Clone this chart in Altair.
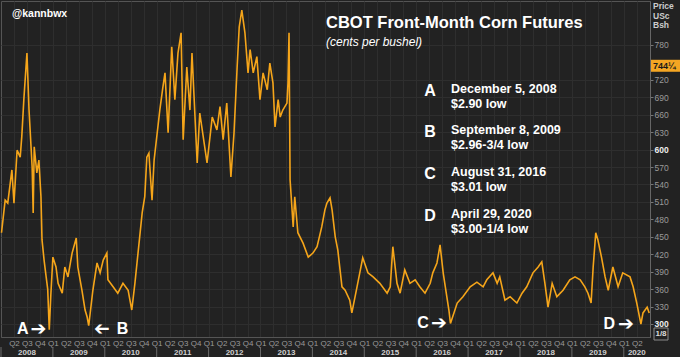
import altair as alt
import pandas as pd

# ---------------- data ----------------
# time as decimal years, price in cents per bushel
t_vals = [
    2008.01, 2008.08, 2008.13, 2008.21, 2008.25, 2008.31, 2008.37, 2008.40, 2008.44, 2008.50,
    2008.54, 2008.60, 2008.62, 2008.64, 2008.69, 2008.73, 2008.77, 2008.79, 2008.83, 2008.87,
    2008.90, 2008.93, 2008.96, 2009.00, 2009.06, 2009.10, 2009.18, 2009.23, 2009.29, 2009.37,
    2009.45, 2009.48, 2009.56, 2009.62, 2009.66, 2009.69, 2009.77, 2009.85, 2009.91, 2009.97,
    2010.04, 2010.06, 2010.16, 2010.25, 2010.35, 2010.45, 2010.52, 2010.58, 2010.64, 2010.72,
    2010.77, 2010.81, 2010.85, 2010.91, 2010.95, 2011.01, 2011.06, 2011.12, 2011.16, 2011.22,
    2011.29, 2011.35, 2011.41, 2011.47, 2011.51, 2011.58, 2011.64, 2011.68, 2011.78, 2011.83,
    2011.97, 2012.07, 2012.16, 2012.22, 2012.28, 2012.35, 2012.43, 2012.49, 2012.55, 2012.59,
    2012.64, 2012.70, 2012.76, 2012.80, 2012.86, 2012.93, 2012.99, 2013.05, 2013.13, 2013.18,
    2013.24, 2013.28, 2013.34, 2013.38, 2013.43, 2013.51, 2013.53, 2013.55, 2013.57, 2013.63,
    2013.66, 2013.72, 2013.82, 2013.92, 2014.01, 2014.09, 2014.18, 2014.24, 2014.28, 2014.34,
    2014.38, 2014.44, 2014.49, 2014.57, 2014.63, 2014.72, 2014.76, 2014.86, 2014.97, 2015.07,
    2015.17, 2015.30, 2015.44, 2015.50, 2015.55, 2015.63, 2015.69, 2015.78, 2015.88, 2015.98,
    2016.07, 2016.17, 2016.27, 2016.32, 2016.40, 2016.46, 2016.52, 2016.59, 2016.63, 2016.66,
    2016.79, 2016.90, 2017.04, 2017.17, 2017.29, 2017.36, 2017.48, 2017.56, 2017.61, 2017.71,
    2017.81, 2017.94, 2018.04, 2018.13, 2018.25, 2018.35, 2018.42, 2018.48, 2018.54, 2018.62,
    2018.71, 2018.83, 2018.96, 2019.06, 2019.16, 2019.25, 2019.31, 2019.37, 2019.41, 2019.46,
    2019.50, 2019.57, 2019.64, 2019.70, 2019.79, 2019.89, 2019.98, 2020.12, 2020.18, 2020.25,
    2020.33, 2020.37, 2020.45, 2020.49,
]
price_vals = [
    457, 513, 508, 565, 508, 599, 587, 622, 686, 766,
    668, 570, 491, 605, 560, 582, 519, 445, 410, 381,
    360, 290, 350, 415, 398, 370, 353, 398, 381, 422,
    448, 398, 358, 324, 312, 297, 358, 405, 388, 410,
    422, 376, 364, 353, 370, 358, 324, 370, 422, 491,
    519, 587, 594, 513, 582, 629, 668, 708, 732, 629,
    777, 686, 766, 801, 617, 742, 668, 766, 577, 663,
    577, 656, 634, 674, 617, 680, 553, 629, 742, 811,
    840, 801, 732, 772, 732, 760, 686, 732, 703, 749,
    715, 639, 686, 656, 668, 680, 715, 801, 548, 467,
    519, 457, 439, 415, 422, 433, 467, 496, 508, 517,
    496, 450, 427, 364, 358, 341, 319, 364, 414, 388,
    381, 370, 353, 364, 433, 370, 353, 393, 370, 376,
    364, 353, 370, 388, 405, 436, 388, 347, 324, 301,
    336, 347, 364, 372, 364, 376, 388, 370, 381, 341,
    347, 336, 353, 364, 388, 398, 407, 370, 329, 370,
    347, 358, 376, 381, 376, 364, 353, 336, 398, 457,
    445, 415, 381, 358, 398, 364, 388, 381, 364, 336,
    300, 319, 329, 319,
]

year_labels = [str(y) for y in range(2008, 2021)]
year_starts = [float(y) for y in range(2008, 2021)]
year_mids = [y + 0.5 for y in range(2008, 2020)] + [2020.25]

legend_letters = ["A", "B", "C", "D"]
legend_dates = ["December 5, 2008", "September 8, 2009", "August 31, 2016", "April 29, 2020"]
legend_lows = ["$2.90 low", "$2.96-3/4 low", "$3.01 low", "$3.00-1/4 low"]

# bottom markers: letter / arrow and where they sit (decimal year, cents)
marker_letters = ["A", "B", "C", "D"]
marker_letter_t = [2008.42, 2010.34, 2016.13, 2019.72]
marker_arrow_t = [2008.72, 2009.94, 2016.44, 2020.04]
marker_p = [291.4, 291.4, 301.7, 300.0]
marker_arrow_angle = [0, 180, 0, 0]

tag_value = [744.25]
tag_text = ["744\u00bc"]

price_ticks = [p for p in range(300, 781, 30) if p != 750]
quarter_ticks = [y + q / 4 for y in range(2008, 2021) for q in range(4)
                 if 2008.25 <= y + q / 4 <= 2020.25]

# ---------------- layout ----------------
W, H = 649, 336
BG = "#222222"
LINE = "#f5a51a"
FONT = "Liberation Sans"

xs = alt.Scale(domain=[2008.0, 2020.505], nice=False, zero=False)
ys = alt.Scale(domain=[277.6, 855.7], nice=False, zero=False)

df = pd.DataFrame({"t": t_vals, "price": price_vals})

x_axis = alt.Axis(values=quarter_ticks,
                  labelExpr="'Q' + (round((datum.value - floor(datum.value)) * 4) + 1)",
                  grid=True, gridColor="#2e2e2e", ticks=False,
                  domainColor="#555555", labelColor="#9a9a9a",
                  labelFont=FONT, labelFontSize=8, labelPadding=2,
                  labelOverlap=False, labelFlush=False, labelBound=False, title=None)

line = alt.Chart(df).mark_line(color=LINE, strokeWidth=1.6, strokeJoin="miter").encode(
    x=alt.X("t:Q", scale=xs, axis=x_axis),
    y=alt.Y("price:Q", scale=ys, title=None,
            axis=alt.Axis(orient="right", values=price_ticks, grid=True,
                          gridColor="#2e2e2e", tickSize=3, tickColor="#777777",
                          domainColor="#666666", labelPadding=1, labelFont=FONT,
                          labelFontSize=8.5,
                          labelColor={"condition": {"test": "datum.value == 300 || datum.value == 600",
                                                    "value": "#eeeeee"}, "value": "#9a9a9a"},
                          labelFontWeight={"condition": {"test": "datum.value == 300 || datum.value == 600",
                                                         "value": "bold"}, "value": "normal"})),
)

# year labels and separators under the quarter labels
ydf = pd.DataFrame({"label": year_labels, "t": year_mids, "start": year_starts})
year_text = alt.Chart(ydf).mark_text(font=FONT, fontSize=8, fontWeight="bold",
                                     color="#d0d0d0", baseline="middle").encode(
    x=alt.X("t:Q", scale=xs, axis=x_axis),
    y=alt.value(H + 16),
    text="label:N",
)
year_sep = alt.Chart(ydf).mark_rule(color="#6a6a6a", strokeWidth=1).encode(
    x=alt.X("start:Q", scale=xs, axis=x_axis),
    y=alt.value(H + 10),
    y2=alt.value(H + 21),
)

# bottom markers
mdf = pd.DataFrame({"letter": marker_letters, "t": marker_letter_t,
                    "at": marker_arrow_t, "p": marker_p, "ang": marker_arrow_angle})
m_letters = alt.Chart(mdf).mark_text(font=FONT, fontSize=16, fontWeight="bold",
                                     color="white", baseline="middle").encode(
    x=alt.X("t:Q", scale=xs, axis=x_axis),
    y=alt.Y("p:Q", scale=ys, axis=None),
    text="letter:N",
)
m_arrows = alt.Chart(mdf).mark_text(font="DejaVu Sans", fontSize=19, fontWeight="bold",
                                    color="white", baseline="middle", text="\u2794").encode(
    x=alt.X("at:Q", scale=xs, axis=x_axis),
    y=alt.Y("p:Q", scale=ys, axis=None),
    angle=alt.Angle("ang:Q", scale=None),
)

# legend block
ldf = pd.DataFrame({"letter": legend_letters, "date": legend_dates, "low": legend_lows})
ly = alt.Scale(type="point", domain=legend_letters, range=[89.5, 215], padding=0)
leg_letter = alt.Chart(ldf).mark_text(font=FONT, fontSize=16, fontWeight="bold",
                                      color="white", align="center", baseline="middle").encode(
    x=alt.value(429), y=alt.Y("letter:N", scale=ly, axis=None), text="letter:N")
leg_date = alt.Chart(ldf).mark_text(font=FONT, fontSize=12.5, fontWeight="bold",
                                    color="white", align="left", baseline="middle", dy=-2).encode(
    x=alt.value(450), y=alt.Y("letter:N", scale=ly, axis=None), text="date:N")
leg_low = alt.Chart(ldf).mark_text(font=FONT, fontSize=12.5, fontWeight="bold",
                                   color="white", align="left", baseline="middle", dy=13).encode(
    x=alt.value(450), y=alt.Y("letter:N", scale=ly, axis=None), text="low:N")

one = pd.DataFrame({"a": [0]})
title = alt.Chart(one).mark_text(font=FONT, fontSize=16.5, fontWeight="bold", color="white",
                                 align="left", baseline="middle",
                                 text="CBOT Front-Month Corn Futures").encode(
    x=alt.value(325), y=alt.value(22))
subtitle = alt.Chart(one).mark_text(font=FONT, fontSize=12, fontStyle="italic", color="white",
                                    align="left", baseline="middle",
                                    text="(cents per bushel)").encode(
    x=alt.value(325), y=alt.value(41))
handle = alt.Chart(one).mark_text(font=FONT, fontSize=10.5, fontWeight="bold", color="white",
                                  align="left", baseline="middle", text="@kannbwx").encode(
    x=alt.value(11), y=alt.value(13))
unit = alt.Chart(one).mark_text(font=FONT, fontSize=8.5, fontWeight="bold", color="#cccccc",
                                align="left", baseline="top", lineBreak="\n", lineHeight=9.5,
                                text="Price\nUSc\nBsh").encode(
    x=alt.value(W + 3), y=alt.value(1))

# last-price tag on the right axis
tdf = pd.DataFrame({"v": tag_value, "txt": tag_text})
tag_box = alt.Chart(tdf).mark_tick(orient="horizontal", size=30, thickness=12,
                                   color="#f5a623", opacity=1).encode(
    x=alt.value(W + 16), y=alt.Y("v:Q", scale=ys, axis=None))
tag_txt = alt.Chart(tdf).mark_text(font=FONT, fontSize=9, fontWeight="bold", color="#1a1a1a",
                                   align="left", baseline="middle").encode(
    x=alt.value(W + 3), y=alt.Y("v:Q", scale=ys, axis=None), text="txt:N")

frac_box = alt.Chart(one).mark_rect(filled=False, stroke="#8a8a8a", strokeWidth=1).encode(
    x=alt.value(W + 4), x2=alt.value(W + 18), y=alt.value(H - 9), y2=alt.value(H + 3))
frac_txt = alt.Chart(one).mark_text(font=FONT, fontSize=8, fontWeight="bold", color="#dddddd",
                                    align="center", baseline="middle", text="1/8").encode(
    x=alt.value(W + 11), y=alt.value(H - 3))

chart = alt.layer(
    line, year_sep, year_text, m_letters, m_arrows,
    leg_letter, leg_date, leg_low, title, subtitle, handle, unit,
    tag_box, tag_txt, frac_box, frac_txt,
).resolve_scale(y="independent").properties(
    width=W, height=H,
    autosize=alt.AutoSizeParams(type="none"),
    padding={"left": 1, "top": 1, "right": 30, "bottom": 20},
    background=BG,
).configure_view(stroke="#555555", strokeWidth=1)

chart.save("out.html", embed_options={"renderer": "svg", "actions": False})
